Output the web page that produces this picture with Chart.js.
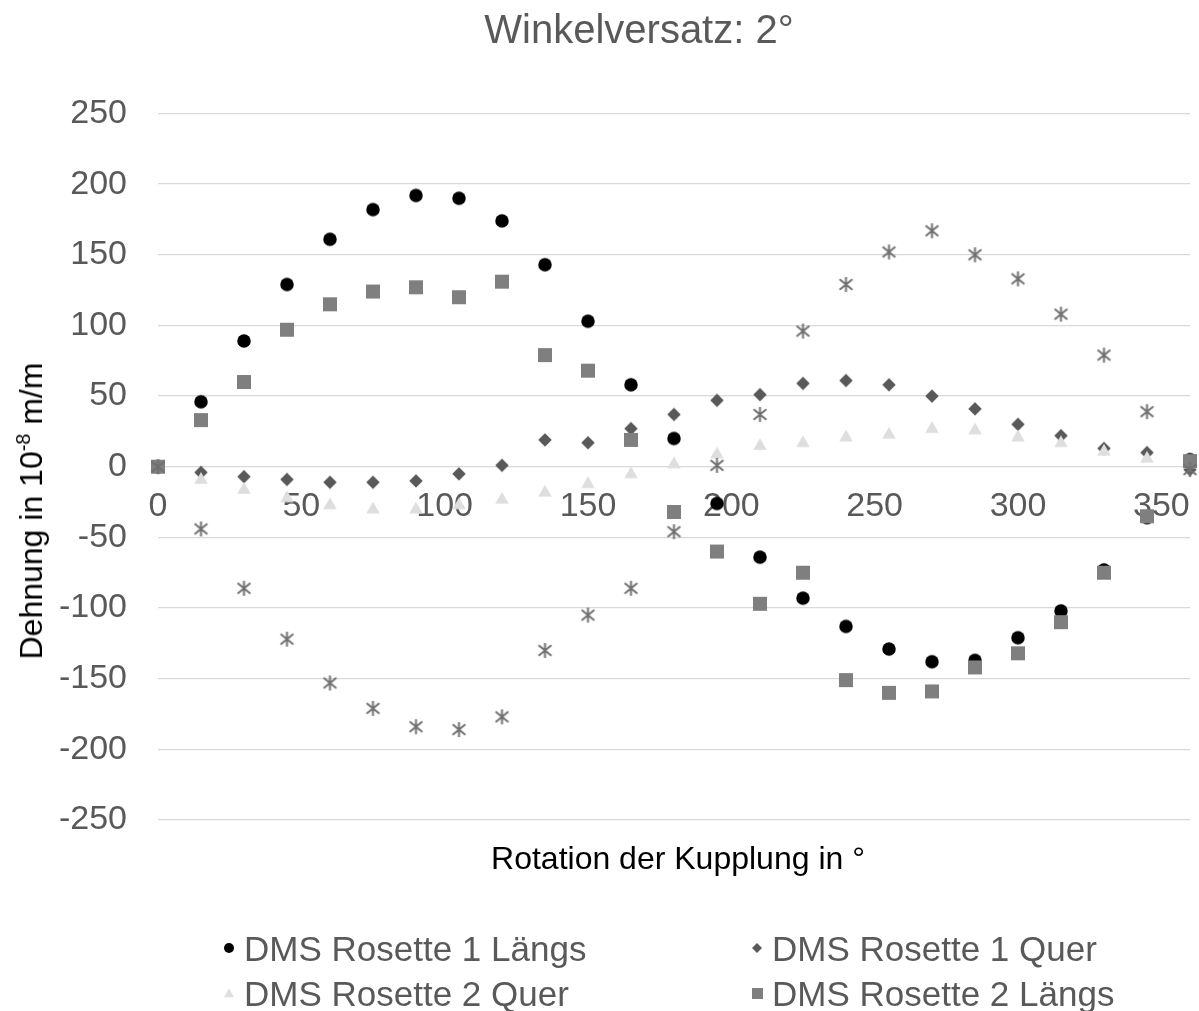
<!DOCTYPE html>
<html>
<head>
<meta charset="utf-8">
<script src="https://cdn.jsdelivr.net/npm/chart.js@4.4.1/dist/chart.umd.min.js"></script>
<style>
  html, body { margin: 0; padding: 0; background: #ffffff; overflow: hidden; }
  #wrap { position: relative; width: 1199px; height: 1011px; overflow: hidden; font-family: "Liberation Sans", Arial, sans-serif; }
  #chart { position: absolute; left: 0; top: 0; }
  .txt { position: absolute; white-space: nowrap; line-height: 1; }
  .leg { position: absolute; white-space: nowrap; line-height: 1; font-size: 35px; color: #595959; }
</style>
</head>
<body>
<div id="wrap">
  <canvas id="chart" width="1199" height="1011"></canvas>
  <div class="txt" id="title" style="left:639px; top:9px; transform:translateX(-50%); font-size:40px; color:#595959;">Winkelversatz: 2°</div>
  <div class="txt" id="xtitle" style="left:678px; top:842px; transform:translateX(-50%); font-size:32px; color:#000000;">Rotation der Kupplung in °</div>
  <div class="txt" id="ytitle" style="left:31px; top:511px; transform:translate(-50%,-50%) rotate(-90deg); font-size:32px; color:#000000;">Dehnung in 10<span style="font-size:0.62em; position:relative; top:-0.6em;">-8</span> m/m</div>
  <div id="legend"></div>
</div>
<script>
// ---- data ----
const angles = [0, 15, 30, 45, 60, 75, 90, 105, 120, 135, 150, 165, 180, 195, 210, 225, 240, 255, 270, 285, 300, 315, 330, 345, 360];
const rosette1Laengs = [0, 46, 89, 129, 161, 182, 192, 190, 174, 143, 103, 58, 20, -26, -64, -93, -113, -129, -138, -137, -121, -102, -73, -36, 5];
const rosette1Quer = [0, -4, -7, -9, -11, -11, -10, -5, 1, 19, 17, 27, 37, 47, 51, 59, 61, 58, 50, 41, 30, 22, 13, 10, -2];
const rosette2Quer = [0, -8, -15, -21, -26, -29, -29, -26, -22, -17, -11, -4, 3, 10, 16, 18, 22, 24, 28, 27, 22, 18, 12, 7, 3];
const rosette2Laengs = [0, 33, 60, 97, 115, 124, 127, 120, 131, 79, 68, 19, -32, -60, -97, -75, -151, -160, -159, -142, -132, -110, -75, -35, 4];
const series5 = [0, -44, -86, -122, -153, -171, -184, -186, -177, -130, -105, -86, -46, 1, 37, 96, 129, 152, 167, 150, 133, 108, 79, 39, -2];
const seriesNames = ["DMS Rosette 1 Längs", "DMS Rosette 1 Quer", "DMS Rosette 2 Quer", "DMS Rosette 2 Längs"];
const xTickValues = [0, 50, 100, 150, 200, 250, 300, 350];
const yTickMin = -250, yTickMax = 250, yTickStep = 50;
const xMin = 0, xMax = 360;

// ---- marker images ----
function marker(type, color, s) {
  const pad = 2;
  const n = Math.ceil(s + 2 * pad);
  const c = document.createElement('canvas');
  c.width = n; c.height = n;
  const g = c.getContext('2d');
  const m = n / 2;
  g.fillStyle = color; g.strokeStyle = color;
  g.beginPath();
  if (type === 'circle') {
    g.arc(m, m, s / 2, 0, Math.PI * 2); g.fill();
  } else if (type === 'square') {
    g.fillRect(m - s / 2, m - s / 2, s, s);
  } else if (type === 'diamond') {
    g.moveTo(m, m - s / 2); g.lineTo(m + s / 2, m); g.lineTo(m, m + s / 2); g.lineTo(m - s / 2, m); g.closePath(); g.fill();
  } else if (type === 'triangle') {
    g.moveTo(m, m - s * 0.45); g.lineTo(m + s / 2, m + s * 0.42); g.lineTo(m - s / 2, m + s * 0.42); g.closePath(); g.fill();
  } else if (type === 'asterisk') {
    g.lineWidth = 2;
    const r = s / 2;
    g.moveTo(m, m - r); g.lineTo(m, m + r);
    g.moveTo(m - r * 0.85, m - r * 0.7); g.lineTo(m + r * 0.85, m + r * 0.7);
    g.moveTo(m - r * 0.85, m + r * 0.7); g.lineTo(m + r * 0.85, m - r * 0.7);
    g.stroke();
  }
  return c;
}

const styles = [
  { type: 'circle', color: '#000000', size: 13.5, legSize: 10 },
  { type: 'diamond', color: '#595959', size: 13.5, legSize: 10 },
  { type: 'triangle', color: '#dedede', size: 13.5, legSize: 10 },
  { type: 'square', color: '#7f7f7f', size: 14, legSize: 11 },
  { type: 'asterisk', color: '#707070', size: 15, legSize: 10 }
];
const values = [rosette1Laengs, rosette1Quer, rosette2Quer, rosette2Laengs, series5];

const datasets = values.map((vals, i) => ({
  label: seriesNames[i] || '',
  data: angles.map((a, k) => ({ x: a, y: vals[k] })),
  showLine: false,
  pointStyle: marker(styles[i].type, styles[i].color, styles[i].size),
  pointRadius: 7,
  pointHoverRadius: 7,
  order: values.length - i,
  clip: false
}));

const FONT = '"Liberation Sans", Arial, sans-serif';

new Chart(document.getElementById('chart'), {
  type: 'scatter',
  data: { datasets },
  options: {
    responsive: false,
    animation: false,
    events: [],
    layout: { padding: { top: 113.5, bottom: 191, left: 0, right: 9 } },
    plugins: { legend: { display: false }, title: { display: false }, tooltip: { enabled: false } },
    scales: {
      x: {
        type: 'linear',
        min: xMin, max: xMax,
        position: { y: 0 },
        grid: { display: false, drawTicks: false },
        border: { display: false },
        afterBuildTicks: (s) => { s.ticks = xTickValues.map(v => ({ value: v })); },
        afterFit: (s) => { s.paddingLeft = 0; s.paddingRight = 0; },
        ticks: { font: { family: FONT, size: 34 }, color: '#595959', padding: 19, maxRotation: 0, autoSkip: false }
      },
      y: {
        type: 'linear',
        min: yTickMin, max: yTickMax,
        grid: { color: '#d9d9d9', lineWidth: 1.3, drawTicks: false },
        border: { display: false },
        ticks: { stepSize: yTickStep, font: { family: FONT, size: 34 }, color: '#595959', padding: 31 },
        afterFit: (s) => { s.width = 158; s.paddingTop = 0; s.paddingBottom = 0; }
      }
    }
  }
});

// ---- legend (HTML) ----
const legPos = [
  { x: 229, y: 948 }, { x: 757, y: 948 },
  { x: 229, y: 993 }, { x: 757, y: 993 }
];
const legOrder = [0, 1, 2, 3];
const legend = document.getElementById('legend');
legOrder.forEach((si, k) => {
  const p = legPos[k];
  const st = styles[si];
  const c = marker(st.type, st.color, st.legSize);
  c.style.position = 'absolute';
  c.style.left = (p.x - c.width / 2) + 'px';
  c.style.top = (p.y - c.height / 2) + 'px';
  legend.appendChild(c);
  const t = document.createElement('div');
  t.className = 'leg';
  t.textContent = seriesNames[si];
  t.style.left = (p.x + 15) + 'px';
  t.style.top = (p.y - 17) + 'px';
  legend.appendChild(t);
});
</script>
</body>
</html>
